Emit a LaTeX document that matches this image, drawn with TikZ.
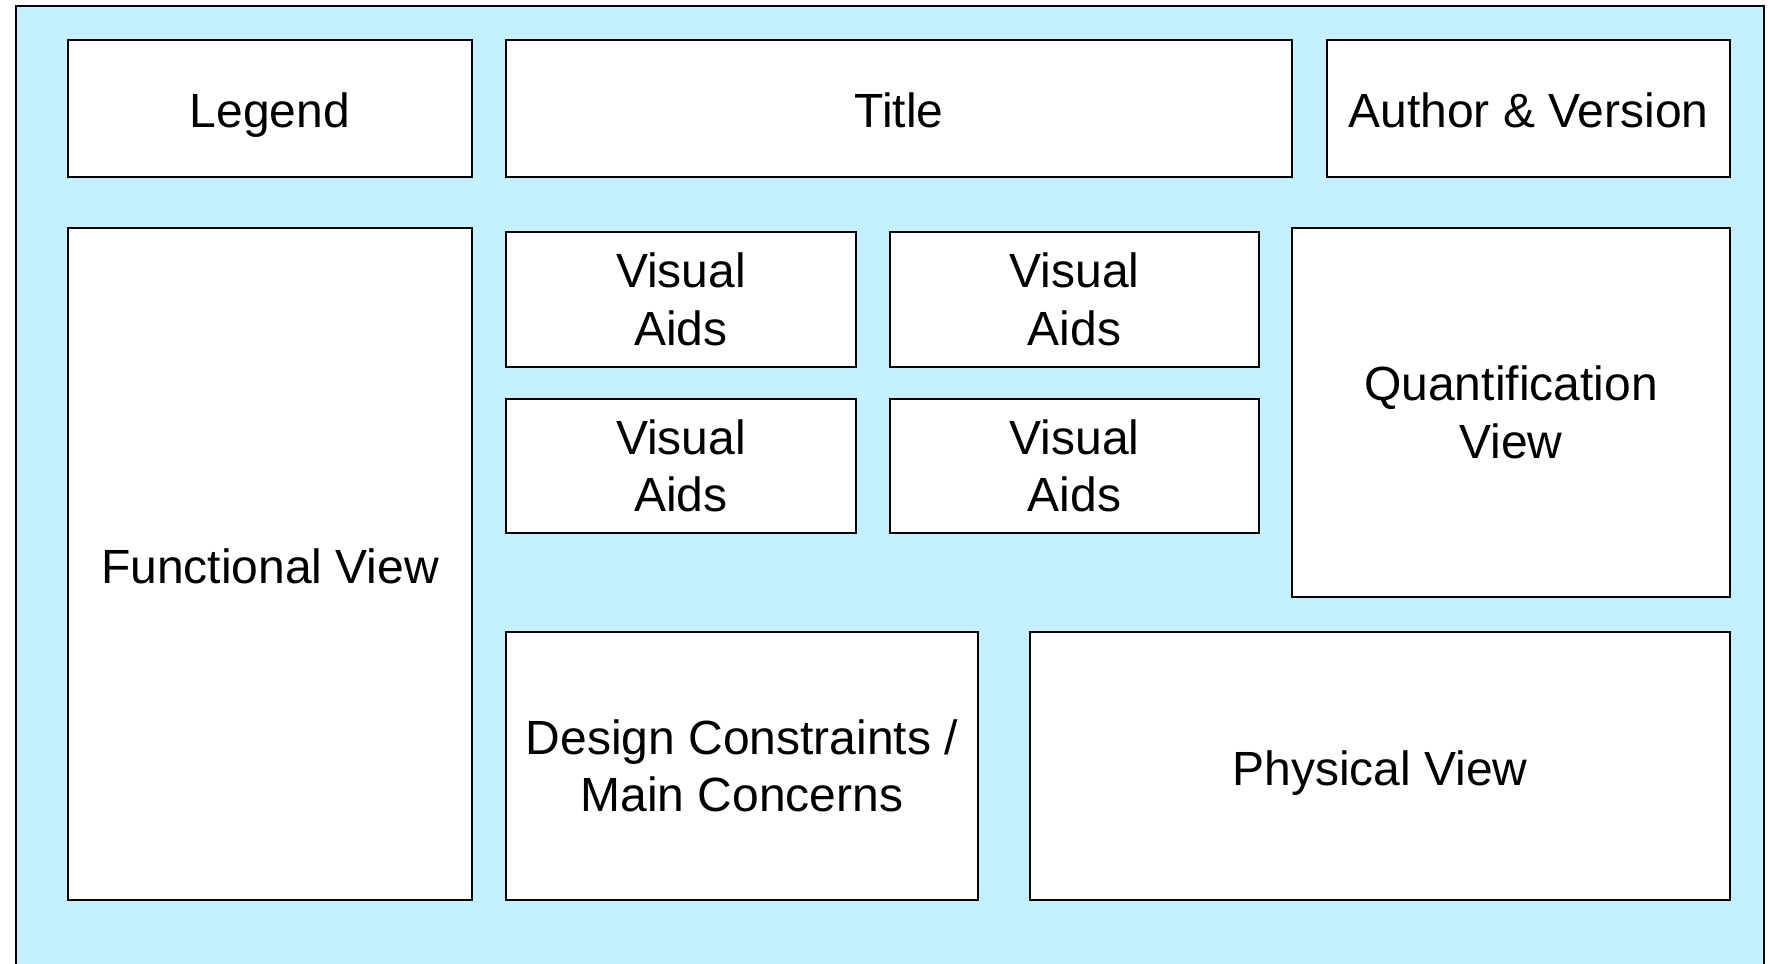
\documentclass[tikz,border=0pt]{standalone}
\usepackage{fontspec}
\setmainfont{Liberation Sans}
\usepackage{tikz}

\definecolor{paneblue}{RGB}{196,240,255}

\tikzset{
  panel/.style={shape=rectangle, draw=black, fill=white, line width=1pt,
    align=center, inner sep=0pt, font=\fontsize{24}{28.8}\selectfont},
  oneline/.style={panel, text height=19pt, text depth=0pt}
}

\begin{document}
\begin{tikzpicture}[x=0.5pt, y=-0.5pt]

	\clip (0,0) rectangle (1770,963);
	\useasboundingbox (0,0) rectangle (1770,963);
	\draw[fill=paneblue, line width=1pt] (16,6) rectangle (1764,1000);

	% top row
	\node[oneline, minimum width=202pt, minimum height=68.5pt] (legend) at (270, 108.5)   {Legend};
	\node[oneline, minimum width=393pt, minimum height=68.5pt] (title) at (899, 108.5)    {Title};
	\node[oneline, minimum width=201.5pt, minimum height=68.5pt] (author) at (1528.5, 108.5) {Author \& Version};

	% left column
	\node[oneline, minimum width=202pt, minimum height=336pt] (functional) at (270, 564) {Functional View};

	% visual aids
	\node[panel, minimum width=175pt, minimum height=67.5pt] (aidsa) at (681, 299.5)    {Visual\\Aids};
	\node[panel, minimum width=184.5pt, minimum height=67.5pt] (aidsb) at (1074.5, 299.5) {Visual\\Aids};
	\node[panel, minimum width=175pt, minimum height=67pt] (aidsc) at (681, 466)      {Visual\\Aids};
	\node[panel, minimum width=184.5pt, minimum height=67pt] (aidsd) at (1074.5, 466)   {Visual\\Aids};

	% right side
	\node[panel, minimum width=219pt, minimum height=184.5pt] (quant) at (1511, 412.5) {Quantification\\View};

	% bottom row
	\node[panel, minimum width=236pt, minimum height=134pt] (design) at (742, 766)     {Design Constraints /\\Main Concerns};
	\node[oneline, minimum width=350pt, minimum height=134pt] (physical) at (1380, 766)  {Physical View};

\end{tikzpicture}
\end{document}
